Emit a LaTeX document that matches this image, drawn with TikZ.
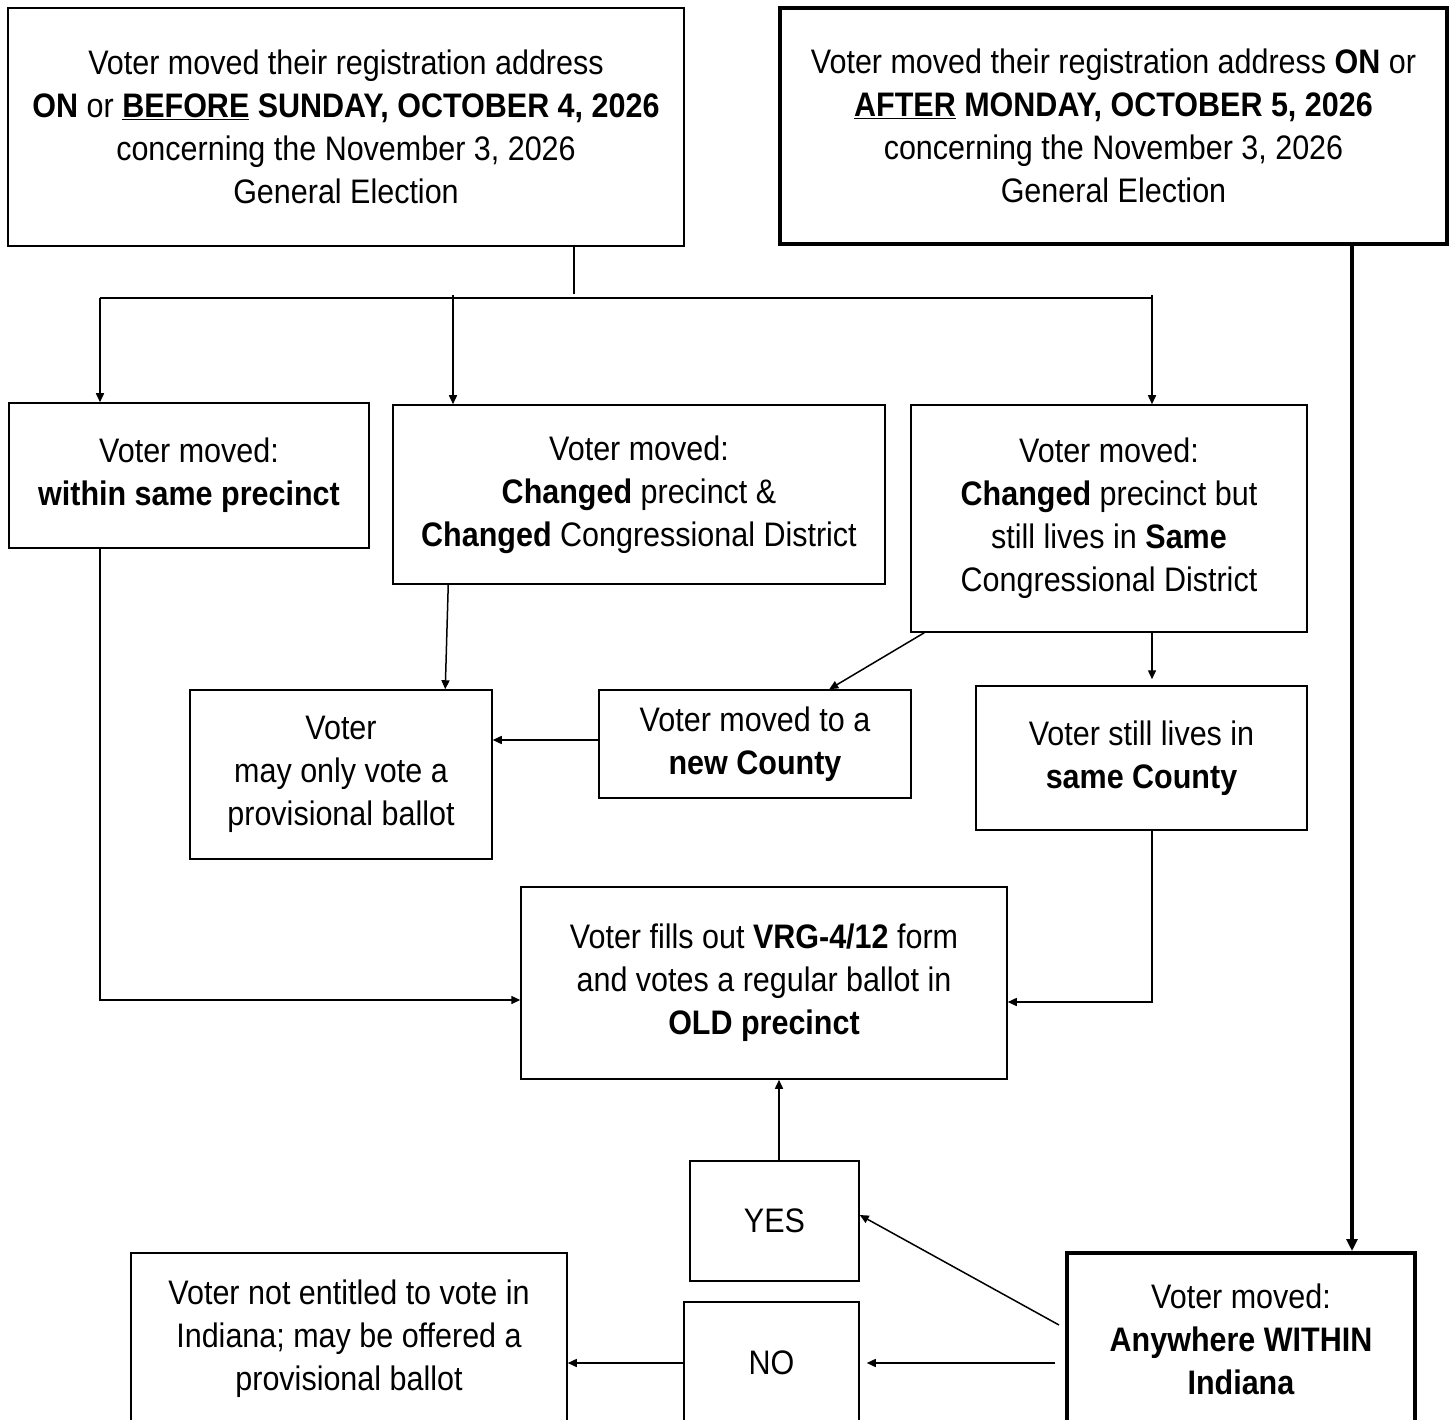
\documentclass[tikz,border=0pt]{standalone}
\usepackage{fontspec}
\setmainfont{Liberation Sans}[FakeStretch=0.897]
\usetikzlibrary{arrows.meta,calc}
\begin{document}
\begin{tikzpicture}[x=1pt,y=-1pt,
  box/.style={draw, line width=1.5pt, inner sep=0pt, align=center,
    font=\fontsize{34}{43}\selectfont},
  thickbox/.style={box, line width=4pt},
  conn/.style={line width=1.5pt, -{Triangle[length=9pt,width=8pt]}},
  thickconn/.style={line width=4pt, -{Triangle[length=12pt,width=11pt]}},
]
\clip (0,0) rectangle (1452,1420);
\fill[white] (0,0) rectangle (1452,1420);

\node[box, minimum width=676pt, minimum height=238pt] (A) at (346,127)
  {Voter moved their registration address\\
   \textbf{ON} or \underline{\textbf{BEFORE}} \textbf{SUNDAY, OCTOBER 4, 2026}\\
   concerning the November 3, 2026\\ General Election};
\node[thickbox, minimum width=667pt, minimum height=236pt] (B) at (1113.5,126)
  {Voter moved their registration address \textbf{ON} or\\
   \underline{\textbf{AFTER}} \textbf{MONDAY, OCTOBER 5, 2026}\\
   concerning the November 3, 2026\\ General Election};
\node[box, minimum width=360pt, minimum height=145pt] (C) at (189,475.5)
  {Voter moved:\\ \textbf{within same precinct}};
\node[box, minimum width=492pt, minimum height=179pt] (D) at (639,494.5)
  {Voter moved:\\ \textbf{Changed} precinct \&\\ \textbf{Changed} Congressional District};
\node[box, minimum width=396pt, minimum height=227pt] (E) at (1109,518.5)
  {Voter moved:\\ \textbf{Changed} precinct but\\ still lives in \textbf{Same}\\ Congressional District};
\node[box, minimum width=302pt, minimum height=169pt] (F) at (341,774.5)
  {Voter\\ may only vote a\\ provisional ballot};
\node[box, minimum width=312pt, minimum height=108pt] (G) at (755,744)
  {Voter moved to a\\ \textbf{new County}};
\node[box, minimum width=331pt, minimum height=144pt] (H) at (1141.5,758)
  {Voter still lives in\\ \textbf{same County}};
\node[box, minimum width=486pt, minimum height=192pt] (I) at (764,983)
  {Voter fills out \textbf{VRG-4/12} form\\ and votes a regular ballot in\\ \textbf{OLD precinct}};
\node[box, minimum width=169pt, minimum height=120pt] (Y) at (774.5,1221) {YES};
\node[box, minimum width=175pt, minimum height=122pt] (N) at (771.5,1363) {NO};
\node[box, minimum width=436pt, minimum height=172pt] (J) at (349,1339)
  {Voter not entitled to vote in\\ Indiana; may be offered a\\ provisional ballot};
\node[thickbox, minimum width=348pt, minimum height=172pt] (K) at (1241,1339)
  {Voter moved:\\ \textbf{Anywhere WITHIN}\\ \textbf{Indiana}};

% split from A
\coordinate (split) at (574,294);
\coordinate (bl) at (100,298);
\coordinate (bm) at (453,298);
\coordinate (br) at (1152,298);
\draw[line width=1.5pt] (A.south -| split) -- (split);
\draw[line width=1.5pt] (bl) -- (br);
\draw[conn] (bl) -- (C.north -| bl);
\draw[conn] ([yshift=3pt]bm) -- (D.north -| bm);
\draw[conn] ([yshift=3pt]br) -- (E.north -| br);

% middle
\draw[conn] ([xshift=56pt]D.south west) -- ([xshift=256pt]F.north west);
\draw[conn] ([xshift=14pt]E.south west) -- ([xshift=231pt]G.north west);
\draw[conn, shorten >=6pt] (E.south -| br) -- (H.north -| br);
\draw[conn] ([yshift=4pt]G.west) -- ([yshift=4pt]G.west -| F.east);

\coordinate (cl) at (100,1000);
\coordinate (cr) at (1152,1002);
\draw[conn] (C.south -| cl) -- (cl) -- (cl -| I.west);
\draw[conn] (H.south -| cr) -- (cr) -- (cr -| I.east);

% bottom
\coordinate (yx) at (779,0);
\draw[conn] (Y.north -| yx) -- (I.south -| yx);
\draw[conn] ([xshift=-6pt,yshift=14pt]K.west) -- ([yshift=6pt]Y.east);
\draw[conn, shorten <=10pt, shorten >=7pt] (K.west |- N.east) -- (N.east);
\draw[conn] (N.west) -- (N.west -| J.east);

\coordinate (kx) at (1352,0);
\draw[thickconn] (B.south -| kx) -- (K.north -| kx);
\end{tikzpicture}
\end{document}
